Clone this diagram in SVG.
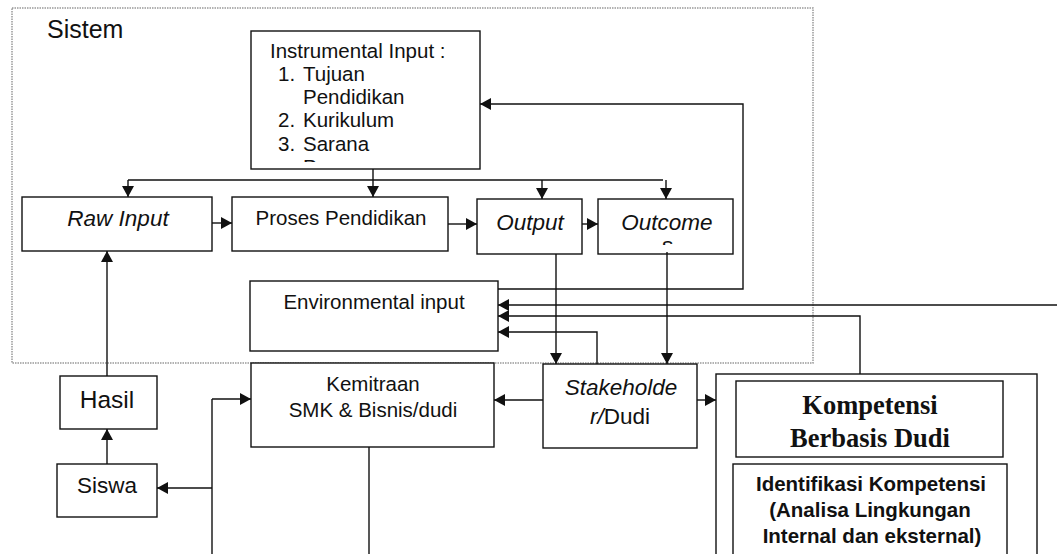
<svg xmlns="http://www.w3.org/2000/svg" width="1057" height="554" viewBox="0 0 1057 554">
<defs>
<style>
.box{fill:#fff;stroke:#111;stroke-width:1.4}
.t{font-family:"Liberation Sans",Arial,sans-serif;fill:#111}
.i{font-style:italic}
.c{text-anchor:middle}
.ln{fill:none;stroke:#111;stroke-width:1.4}
.ar{fill:none;stroke:#111;stroke-width:1.4;marker-end:url(#ah)}
.tb{font-family:"Liberation Serif","Times New Roman",serif;font-weight:bold;fill:#111}
</style>
<marker id="ah" markerWidth="11" markerHeight="12" refX="11" refY="6" orient="auto" markerUnits="userSpaceOnUse">
<path d="M0,0 L11,6 L0,12 z" fill="#111"/>
</marker>
<clipPath id="clipInst"><rect x="252" y="32" width="227" height="130"/></clipPath>
<clipPath id="clipOut"><rect x="599" y="200" width="133" height="45"/></clipPath>
</defs>

<rect x="12" y="8" width="801" height="355" fill="none" stroke="#999" stroke-width="1.5" stroke-dasharray="1.5 1"/>
<text class="t" x="47" y="38" font-size="25">Sistem</text>

<g id="instrumental">
<rect class="box" x="251" y="31" width="229" height="138"/>
<g clip-path="url(#clipInst)" class="t" font-size="20.5">
<text x="270" y="58">Instrumental Input :</text>
<text x="278" y="81">1.</text><text x="303" y="81">Tujuan</text>
<text x="303" y="104">Pendidikan</text>
<text x="278" y="127">2.</text><text x="303" y="127">Kurikulum</text>
<text x="278" y="151">3.</text><text x="303" y="151">Sarana</text>
<text x="303" y="174">Prasarana</text>
</g>
</g>

<g id="raw-input">
<rect class="box" x="22" y="197" width="190" height="54"/>
<text class="t i c" x="118" y="226" font-size="22.5">Raw Input</text>
</g>
<g id="proses">
<rect class="box" x="232" y="197" width="216" height="54"/>
<text class="t c" x="341" y="225" font-size="20.5">Proses Pendidikan</text>
</g>
<g id="output">
<rect class="box" x="477" y="199" width="105" height="55"/>
<text class="t i c" x="530" y="230" font-size="22.5">Output</text>
</g>
<g id="outcome">
<rect class="box" x="598" y="199" width="135" height="55"/>
<g clip-path="url(#clipOut)" class="t i c" font-size="22.5">
<text x="667" y="230">Outcome</text>
<text x="667" y="253">s</text>
</g>
</g>
<g id="environmental">
<rect class="box" x="250" y="281" width="248" height="70"/>
<text class="t c" x="374" y="309" font-size="20.5">Environmental input</text>
</g>
<g id="kemitraan">
<rect class="box" x="251" y="363" width="243" height="84"/>
<text class="t c" x="373" y="391" font-size="20.5">Kemitraan</text>
<text class="t c" x="373" y="417" font-size="20.5">SMK &amp; Bisnis/dudi</text>
</g>
<g id="stakeholder">
<rect class="box" x="543" y="364" width="154" height="84"/>
<text class="t i c" x="621" y="395" font-size="22.5">Stakeholde</text>
<text class="t c" x="620" y="424" font-size="22.5"><tspan font-style="italic">r/</tspan>Dudi</text>
</g>
<g id="hasil">
<rect class="box" x="60" y="376" width="97" height="53"/>
<text class="t c" x="107" y="408" font-size="24.5">Hasil</text>
</g>
<g id="siswa">
<rect class="box" x="57" y="464" width="100" height="53"/>
<text class="t c" x="107" y="493" font-size="22.5">Siswa</text>
</g>
<g id="kompetensi-outer">
<rect class="box" x="716" y="374" width="321" height="190"/>
</g>
<g id="kompetensi">
<rect class="box" x="736" y="381" width="267" height="76"/>
<text class="tb c" x="870" y="414" font-size="26.5">Kompetensi</text>
<text class="tb c" x="870" y="447" font-size="26.5">Berbasis Dudi</text>
</g>
<g id="identifikasi">
<rect class="box" x="733" y="464" width="274" height="100"/>
<text class="t c" x="871" y="491" font-size="20.5" font-weight="bold">Identifikasi Kompetensi</text>
<text class="t c" x="870" y="517" font-size="20.5" font-weight="bold">(Analisa Lingkungan</text>
<text class="t c" x="872" y="543" font-size="20.5" font-weight="bold">Internal dan eksternal)</text>
</g>

<g id="connectors">
<path class="ln" d="M373,169 V180 M128,180 H663"/>
<path class="ar" d="M128,180 V197"/>
<path class="ar" d="M373,180 V197"/>
<path class="ar" d="M542,180 V199"/>
<path class="ar" d="M666,180 V199"/>
<path class="ar" d="M212,223 H232"/>
<path class="ar" d="M448,224 H477"/>
<path class="ar" d="M582,224 H598"/>
<path class="ar" d="M498,289 H743 V104 H480"/>
<path class="ar" d="M1057,305 H498"/>
<path class="ar" d="M860,374 V316 H498"/>
<path class="ar" d="M597,364 V332 H498"/>
<path class="ar" d="M556,254 V364"/>
<path class="ar" d="M667,252 V364"/>
<path class="ar" d="M543,400 H494"/>
<path class="ar" d="M697,400 H716"/>
<path class="ar" d="M107,376 V251"/>
<path class="ar" d="M107,464 V429"/>
<path class="ln" d="M212,554 V399"/>
<path class="ar" d="M212,399 H251"/>
<path class="ar" d="M212,488 H157"/>
<path class="ln" d="M369,447 V554"/>
</g>
</svg>
